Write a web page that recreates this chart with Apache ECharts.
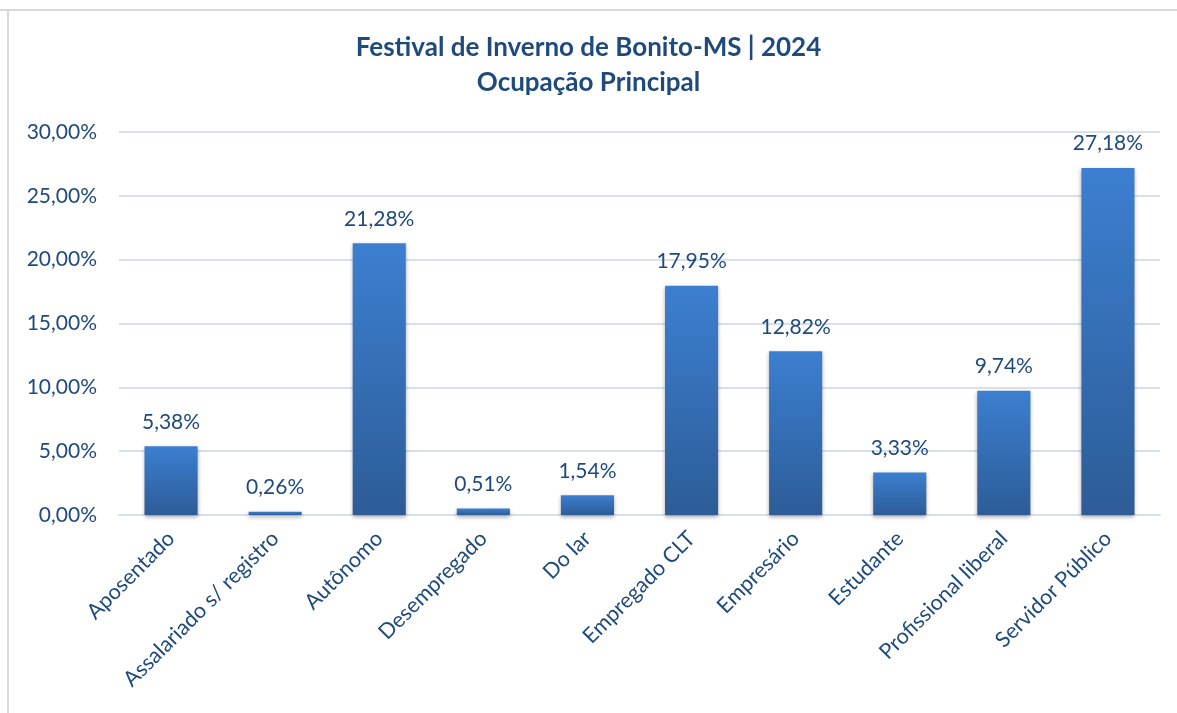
<!DOCTYPE html>
<html>
<head>
<meta charset="utf-8">
<script src="https://cdn.jsdelivr.net/npm/echarts@6/dist/echarts.min.js"></script>
<style>
html,body{margin:0;padding:0;background:#fff;}
#chart{width:1177px;height:713px;}
</style>
</head>
<body>
<div id="chart"></div>
<script>
const categories = ["Aposentado","Assalariado s/ registro","Autônomo","Desempregado","Do lar","Empregado CLT","Empresário","Estudante","Profissional liberal","Servidor Público"];
const values = [5.38, 0.26, 21.28, 0.51, 1.54, 17.95, 12.82, 3.33, 9.74, 27.18];
const titleLines = ["Festival de Inverno de Bonito-MS | 2024", "Ocupação Principal"];

const fmt = v => v.toFixed(2).replace('.', ',') + '%';
const textColor = '#1f4a7c';
const font = 'Lato, "Noto Sans", sans-serif';

const chart = echarts.init(document.getElementById('chart'));
chart.setOption({
  backgroundColor: '#ffffff',
  animation: false,
  title: {
    text: titleLines.join('\n'),
    left: 'center',
    top: 25,
    textStyle: {color: '#1f4a7c', fontSize: 26, fontWeight: 'bold', fontFamily: font, lineHeight: 35}
  },
  graphic: [
    {type: 'line', shape: {x1: 0, y1: 10, x2: 1177, y2: 10}, style: {stroke: '#d9d9d9', lineWidth: 2}},
    {type: 'line', shape: {x1: 8, y1: 10, x2: 8, y2: 713}, style: {stroke: '#d9d9d9', lineWidth: 2}}
  ],
  grid: {left: 119, right: 17, top: 132, bottom: 198, containLabel: false},
  xAxis: {
    type: 'category',
    data: categories,
    axisLine: {show: true, lineStyle: {color: '#d6e0ef', width: 2}},
    axisTick: {show: false},
    axisLabel: {rotate: 45, color: textColor, fontSize: 21.5, fontFamily: font, margin: 20, interval: 0}
  },
  yAxis: {
    type: 'value',
    min: 0, max: 30, interval: 5,
    axisLine: {show: false},
    axisTick: {show: false},
    splitLine: {lineStyle: {color: '#d6e0ef', width: 2}},
    axisLabel: {formatter: v => fmt(v), color: textColor, fontSize: 21, fontFamily: font, margin: 22}
  },
  series: [{
    type: 'bar',
    data: values,
    barWidth: '51%',
    itemStyle: {
      color: new echarts.graphic.LinearGradient(0, 0, 0, 1, [
        {offset: 0, color: '#3c7fd0'},
        {offset: 1, color: '#2d5c97'}
      ]),
      shadowColor: 'rgba(0,0,0,0.35)',
      shadowBlur: 4,
      shadowOffsetY: 2
    },
    label: {
      show: true,
      position: 'top',
      distance: 14,
      formatter: p => fmt(p.value),
      color: textColor,
      fontSize: 21,
      fontFamily: font
    }
  }]
});
</script>
</body>
</html>
